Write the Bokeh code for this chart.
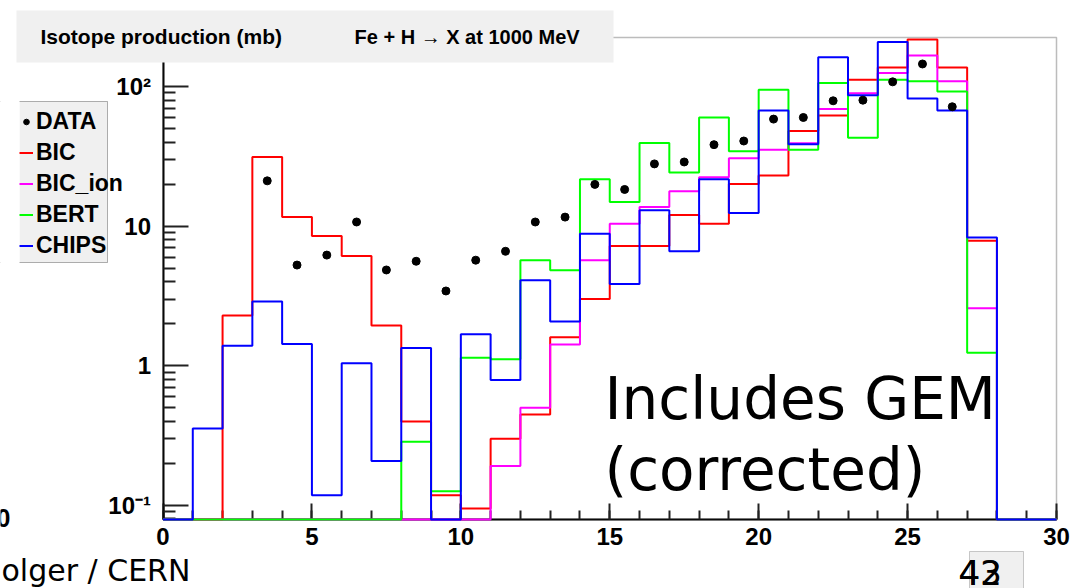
from bokeh.plotting import figure
from bokeh.models import (Range1d, FixedTicker, Legend, LegendItem, BoxAnnotation,
                          Label, CustomJSTickFormatter, ColumnDataSource)
from bokeh.embed import file_html
from bokeh.resources import INLINE

# ---------------- data ----------------
BIN_EDGES = list(range(0, 31))
BIC = [0, 0, 2.29, 31.3, 11.6, 8.5, 6.1, 1.94, 0.398, 0.118, 0.095, 0.30, 0.447, 1.6, 3.0,
       7.2, 7.2, 12.0, 10.4, 20.0, 23.0, 48.0, 62.0, 112.0, 137.0, 217.0, 137.0, 7.85, 0, 0]
BIC_ION = [0, 0, 0, 0, 0, 0, 0, 0, 0, 0, 0, 0.191, 0.5, 1.42, 5.69,
           10.4, 13.7, 17.8, 22.4, 30.6, 35.3, 39.2, 69.0, 89.6, 125.0, 167.0, 109.0, 2.58, 0, 0]
BERT = [0, 0, 0, 0, 0, 0, 0, 0, 0.285, 0.126, 1.14, 1.11, 5.7, 4.83, 21.7,
        14.9, 39.4, 24.2, 60.0, 34.3, 94.7, 35.3, 106.0, 43.0, 112.0, 109.0, 92.0, 1.24, 0, 0]
CHIPS = [0, 0.355, 1.39, 2.88, 1.43, 0.118, 1.04, 0.208, 1.34, 0, 1.68, 0.79, 4.1, 2.07, 8.8,
         3.85, 13.0, 6.6, 21.7, 12.4, 67.4, 38.5, 162.0, 86.7, 208.0, 82.0, 67.4, 8.3, 0, 0]
DATA_X = [3.5, 4.5, 5.5, 6.5, 7.5, 8.5, 9.5, 10.5, 11.5, 12.5, 13.5, 14.5, 15.5, 16.5,
          17.5, 18.5, 19.5, 20.5, 21.5, 22.5, 23.5, 24.5, 25.5, 26.5]
DATA_Y = [21.1, 5.26, 6.2, 10.7, 4.85, 5.6, 3.43, 5.7, 6.6, 10.7, 11.6, 19.9, 18.3, 27.9,
          28.8, 38.3, 40.7, 58.4, 60.0, 79.0, 79.8, 108.0, 145.0, 71.6]
SERIES = ["BIC", "BIC_ion", "BERT", "CHIPS"]
COLORS = ["#ff0000", "#ff00ff", "#00ff00", "#0000ff"]
X_TICKS = [0, 5, 10, 15, 20, 25, 30]
Y_TICKS = [0.1, 1, 10, 100]
Y_TICK_LABELS = ["10\u207b\u00b9", "1", "10", "10\u00b2"]
X_LO, X_HI = 0, 30
Y_LO, Y_HI = 0.0791, 224.4

# ---------------- layout: the frame covers the whole canvas ----------------
W, H = 1071, 588
AX_L, AX_R = 162.5, 1056.0        # canvas px of x = 0 and x = 30
Y_PX_1, Y_PX_DEC = 365.2, 139.6   # canvas px of y = 1 and px per decade
px_per_x = (AX_R - AX_L) / (X_HI - X_LO)
xr = Range1d(X_LO - AX_L / px_per_x, X_HI + (W - AX_R) / px_per_x)
yr = Range1d(10 ** ((Y_PX_1 - H) / Y_PX_DEC), 10 ** (Y_PX_1 / Y_PX_DEC))

p = figure(width=W, height=H, x_range=xr, y_range=yr, y_axis_type="log",
           output_backend="svg", toolbar_location=None, title=None,
           min_border_left=0, min_border_right=0, min_border_top=0, min_border_bottom=0)
p.background_fill_color = "white"
p.border_fill_color = "white"
p.outline_line_color = None
p.xgrid.visible = False
p.ygrid.visible = False

# plot frame (top / right edges)
p.add_layout(BoxAnnotation(left=X_LO, right=X_HI, bottom=Y_LO, top=Y_HI, fill_alpha=0,
                           line_color="#222222", line_width=1.5, level="underlay"))

# histograms
renderers = []
for name, vals, col in zip(SERIES, [BIC, BIC_ION, BERT, CHIPS], COLORS):
    yv = [v if v > 0 else Y_LO for v in vals]
    src = ColumnDataSource(dict(x=BIN_EDGES, y=yv + [yv[-1]]))
    r = p.step("x", "y", source=src, mode="after", line_color=col, line_width=2)
    renderers.append(r)

r_data = p.scatter(DATA_X, DATA_Y, size=8, color="black")

# axes, pinned to the frame edges
minor_y = [k * 10.0 ** d for d in range(-2, 3) for k in range(2, 10)]
minor_y = [m for m in minor_y if Y_LO <= m <= Y_HI]
p.yaxis.ticker = FixedTicker(ticks=Y_TICKS, minor_ticks=minor_y)
p.yaxis.formatter = CustomJSTickFormatter(args=dict(tvals=Y_TICKS, tlabels=Y_TICK_LABELS), code="""
const i = tvals.findIndex(t => Math.abs(Math.log10(t) - Math.log10(tick)) < 1e-6);
return i >= 0 ? tlabels[i] : '';
""")
p.xaxis.ticker = FixedTicker(ticks=X_TICKS, minor_ticks=list(range(X_LO, X_HI + 1)))
p.xaxis.fixed_location = Y_LO
p.yaxis.fixed_location = X_LO
p.xaxis.bounds = (X_LO, X_HI)
p.yaxis.bounds = (Y_LO, Y_HI)
for ax, (mi, mn) in ((p.yaxis, (25, 12)), (p.xaxis, (16, 9))):
    ax.level = "underlay"
    ax.axis_line_color = "black"
    ax.axis_line_width = 2
    ax.major_tick_in = mi
    ax.major_tick_out = 0
    ax.minor_tick_in = mn
    ax.minor_tick_out = 0
    ax.major_tick_line_color = "#222222"
    ax.minor_tick_line_color = "#222222"
    ax.major_tick_line_width = 2
    ax.minor_tick_line_width = 2
    ax.major_label_text_font = "Liberation Sans"
    ax.major_label_text_font_style = "bold"
    ax.major_label_text_font_size = "24px"
    ax.major_label_text_color = "black"
p.yaxis.major_label_standoff = 12
p.xaxis.major_label_standoff = 8

TXT_SHIFT = 0.37  # renderer places the alphabetic baseline this many em lower


def cbox(l, r, t, b, **kw):
    """box given in canvas pixels (top-left origin)"""
    return BoxAnnotation(left=l, right=r, top=H - t, bottom=H - b,
                         left_units="screen", right_units="screen",
                         top_units="screen", bottom_units="screen", **kw)


def clabel(x, y, text, size, font="Liberation Sans", style="normal"):
    y_adj = y - TXT_SHIFT * size
    return Label(x=x, y=H - y_adj, x_units="screen", y_units="screen", text=text,
                 text_font=font, text_font_size=f"{size}px", text_font_style=style,
                 text_color="black", text_baseline="alphabetic", text_align="left")


# title pave
p.add_layout(cbox(16, 613, 10, 62, fill_color="#f0f0f0", fill_alpha=1, line_alpha=0))
p.add_layout(clabel(40, 43.5, "Isotope production (mb)", 21, style="bold"))
p.add_layout(clabel(354, 43.5, "Fe + H \u2192 X at 1000 MeV", 20, style="bold"))

# legend box (its left part is hidden in the slide)
p.add_layout(cbox(19, 107, 101, 262, fill_color="#f0f0f0", fill_alpha=1, line_alpha=0))
p.add_layout(cbox(-30, 107, 101, 262, fill_alpha=0, line_color="black", line_width=1))
p.add_layout(cbox(-30, 19, 98, 265, fill_color="white", fill_alpha=1, line_alpha=0))

items = [LegendItem(label="DATA", renderers=[r_data])]
for name, r in zip(SERIES, renderers):
    items.append(LegendItem(label=name, renderers=[r]))
legend = Legend(items=items, location=(19, H - 260.5),
                label_text_font="Liberation Sans", label_text_font_style="bold",
                label_text_font_size="23px", label_text_color="black",
                glyph_width=14, glyph_height=31, label_height=31,
                label_standoff=3, spacing=0, padding=0, margin=0,
                background_fill_alpha=0, border_line_alpha=0)
p.add_layout(legend, "center")

# slide texts around the plot
p.add_layout(clabel(-4, 527, "0", 25, style="bold"))
p.add_layout(clabel(604, 420, "Includes GEM", 58, font="DejaVu Sans"))
p.add_layout(clabel(604, 491, "(corrected)", 58, font="DejaVu Sans"))
p.add_layout(clabel(1, 581, "olger / CERN", 30, font="DejaVu Sans"))
p.add_layout(cbox(969, 1023, 551, 600, fill_color="#f0f0f0", fill_alpha=1,
                  line_color="#555555", line_width=1))
p.add_layout(clabel(958, 585, "43", 34, font="DejaVu Sans"))
p.add_layout(clabel(958, 585, "42", 34, font="DejaVu Sans"))

open("out.html", "w").write(file_html(p, INLINE))
